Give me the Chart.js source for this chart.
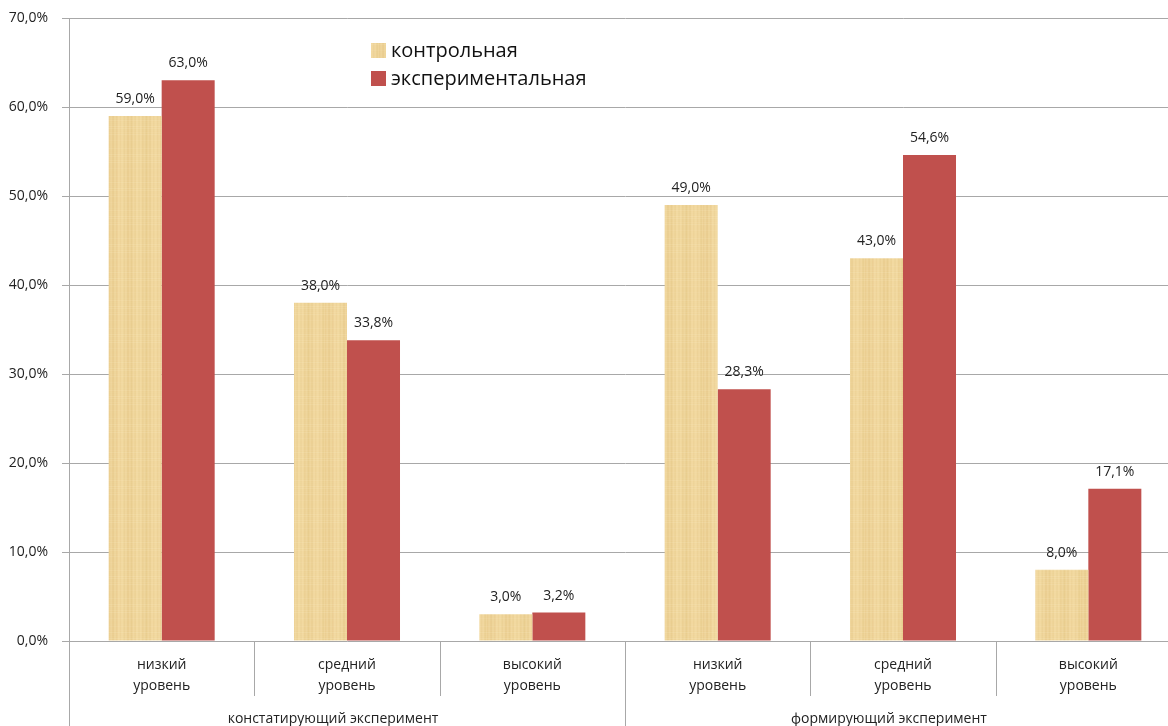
<!DOCTYPE html>
<html>
<head>
<meta charset="utf-8">
<script src="https://cdn.jsdelivr.net/npm/chart.js@4"></script>
<style>
  html, body { margin: 0; padding: 0; overflow: hidden; background: #fff; }
  #chart { display: block; }
</style>
</head>
<body>
<canvas id="chart" width="1181" height="726" style="width:1181px;height:726px"></canvas>
<script>
// categories (two lines each) and the two experiment groups
const levels = [
  ['низкий', 'уровень'], ['средний', 'уровень'], ['высокий', 'уровень'],
  ['низкий', 'уровень'], ['средний', 'уровень'], ['высокий', 'уровень']
];
const stages = ['констатирующий эксперимент', 'формирующий эксперимент'];
const seriesNames = ['контрольная', 'экспериментальная'];
const controlValues = [59.0, 38.0, 3.0, 49.0, 43.0, 8.0];
const experimentalValues = [63.0, 33.8, 3.2, 28.3, 54.6, 17.1];

const FONT = '"Open Sans", "Noto Sans", sans-serif';
const RED = '#c0504d';
const GRID = '#a8a8a8';

const canvas = document.getElementById('chart');
const ctx = canvas.getContext('2d');

// papyrus-like fill for the control bars
function makePapyrus() {
  const p = document.createElement('canvas');
  p.width = 54; p.height = 90;
  const g = p.getContext('2d');
  g.fillStyle = '#f2d9a0';
  g.fillRect(0, 0, p.width, p.height);
  for (let x = 0; x < p.width; x++) {
    const a = 0.08 + 0.07 * Math.sin(x * 1.7) + 0.06 * Math.sin(x * 0.37);
    g.fillStyle = 'rgba(200,158,78,' + Math.max(0, a).toFixed(3) + ')';
    g.fillRect(x, 0, 1, p.height);
  }
  for (let y = 0; y < p.height; y += 2) {
    const a = 0.06 + 0.06 * Math.sin(y * 0.9) + 0.04 * Math.sin(y * 0.21);
    g.fillStyle = 'rgba(255,246,215,' + Math.max(0, a).toFixed(3) + ')';
    g.fillRect(0, y, p.width, 1);
  }
  return ctx.createPattern(p, 'repeat');
}
const papyrus = makePapyrus();

const fmt = v => v.toFixed(1).replace('.', ',') + '%';

const decor = {
  id: 'decor',
  afterDatasetsDraw(chart) {
    const c = chart.ctx;
    c.save();
    c.font = '14px ' + FONT;
    c.fillStyle = '#222';
    c.textAlign = 'center';
    c.textBaseline = 'middle';
    chart.data.datasets.forEach((ds, di) => {
      chart.getDatasetMeta(di).data.forEach((el, i) => {
        c.fillText(fmt(ds.data[i]), el.x, el.y - 17);
      });
    });
    c.restore();
  },
  afterDraw(chart) {
    const c = chart.ctx;
    const xs = chart.scales.x;
    const area = chart.chartArea;
    const step = xs.getPixelForValue(1) - xs.getPixelForValue(0);
    c.save();
    c.strokeStyle = GRID;
    c.lineWidth = 1;
    // left axis down to the bottom
    c.beginPath();
    c.moveTo(Math.round(area.left) + 0.5, area.bottom);
    c.lineTo(Math.round(area.left) + 0.5, chart.height);
    c.stroke();
    for (let i = 1; i <= levels.length; i++) {
      const x = Math.round(xs.getPixelForValue(i) - step / 2) + 0.5;
      const end = (i % 3 === 0) ? chart.height : area.bottom + 55;
      c.beginPath();
      c.moveTo(x, area.bottom);
      c.lineTo(x, end);
      c.stroke();
    }
    // stage labels
    c.font = '14px ' + FONT;
    c.fillStyle = '#222';
    c.textAlign = 'center';
    c.textBaseline = 'middle';
    stages.forEach((s, g) => {
      const l = xs.getPixelForValue(g * 3) - step / 2;
      const r = xs.getPixelForValue(g * 3 + 2) + step / 2;
      c.fillText(s, (l + r) / 2 - 14, area.bottom + 78);
    });
    // legend
    c.font = '20px ' + FONT;
    c.textAlign = 'left';
    const fills = [papyrus, RED];
    seriesNames.forEach((n, k) => {
      const y = 43 + k * 28;
      c.fillStyle = fills[k];
      c.fillRect(371, y, 15, 15);
      c.fillStyle = '#111';
      c.fillText(n, 391, y + 8);
    });
    c.restore();
  }
};

new Chart(canvas, {
  type: 'bar',
  data: {
    labels: levels,
    datasets: [
      { label: seriesNames[0], data: controlValues, backgroundColor: papyrus },
      { label: seriesNames[1], data: experimentalValues, backgroundColor: RED }
    ]
  },
  options: {
    responsive: false,
    animation: false,
    devicePixelRatio: 1,
    categoryPercentage: 0.572,
    barPercentage: 1,
    layout: { padding: { top: 18, left: 0, right: 0, bottom: 0 } },
    plugins: { legend: { display: false }, tooltip: { enabled: false } },
    scales: {
      x: {
        grid: { display: false, drawTicks: false },
        border: { display: false },
        ticks: { padding: 14, color: '#222', font: { family: FONT, size: 14, lineHeight: 1.5 }, maxRotation: 0, autoSkip: false },
        afterFit: s => { s.height = 85; s.paddingLeft = 0; s.paddingRight = 0; }
      },
      y: {
        min: 0, max: 70,
        ticks: { stepSize: 10, padding: 14, color: '#222', font: { family: FONT, size: 14 }, callback: v => fmt(v) },
        grid: { color: GRID, tickLength: 7 },
        border: { display: true, color: GRID },
        afterFit: s => { s.width = 69; s.paddingTop = 0; s.paddingBottom = 0; }
      }
    }
  },
  plugins: [decor]
});
</script>
</body>
</html>
